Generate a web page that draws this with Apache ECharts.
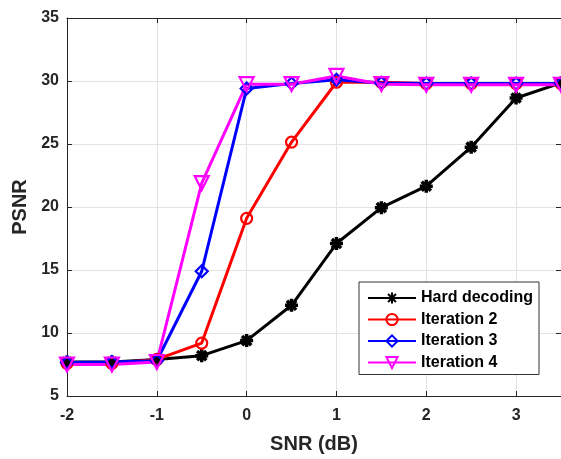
<!DOCTYPE html>
<html>
<head>
<meta charset="utf-8">
<script src="https://cdn.jsdelivr.net/npm/echarts@6/dist/echarts.min.js"></script>
<style>
  html, body { margin: 0; padding: 0; background: #fff; }
  #chart { width: 561px; height: 459px; }
</style>
</head>
<body>
<div id="chart"></div>
<script>
// SNR sweep (dB) and PSNR results for each decoder
const snr = [-2, -1.5, -1, -0.5, 0, 0.5, 1, 1.5, 2, 2.5, 3, 3.5];
const hardDecoding = [7.7, 7.7, 7.9, 8.2, 9.4, 12.2, 17.1, 19.95, 21.65, 24.75, 28.65, 29.85];
const iteration2 = [7.6, 7.6, 7.9, 9.2, 19.1, 25.15, 29.9, 29.9, 29.8, 29.8, 29.8, 29.8];
const iteration3 = [7.65, 7.7, 7.8, 14.9, 29.4, 29.8, 30.1, 29.85, 29.8, 29.8, 29.8, 29.8];
const iteration4 = [7.5, 7.5, 7.7, 21.9, 29.75, 29.75, 30.4, 29.75, 29.7, 29.7, 29.7, 29.7];

const xTicks = [-2, -1, 0, 1, 2, 3];
const yTicks = [5, 10, 15, 20, 25, 30, 35];

const asterisk = 'path://M0,-10L0,10M-10,0L10,0M-7.07,-7.07L7.07,7.07M-7.07,7.07L7.07,-7.07';
const triangleDown = 'path://M-10,-9L10,-9L0,10Z';

function pairs(values) {
  return snr.map((x, i) => [x, values[i]]);
}

function makeSeries(name, values, color, symbol, size) {
  const filled = symbol === asterisk;
  return {
    name: name,
    type: 'line',
    data: pairs(values),
    symbol: symbol,
    symbolSize: size,
    showAllSymbol: true,
    lineStyle: { color: color, width: 3 },
    itemStyle: {
      color: filled ? color : 'rgba(255,255,255,0)',
      borderColor: color,
      borderWidth: filled ? 3.5 : 2.2
    },
    emphasis: { disabled: true },
    animation: false
  };
}

const axisColor = '#262626';
const fontFamily = 'Liberation Sans, Arial, sans-serif';
const labelFont = { color: '#262626', fontWeight: 'bold', fontSize: 16, fontFamily: fontFamily };
const nameFont = { color: '#262626', fontWeight: 'bold', fontSize: 20, fontFamily: fontFamily };

const chart = echarts.init(document.getElementById('chart'), null, { renderer: 'canvas' });
chart.setOption({
  backgroundColor: '#ffffff',
  animation: false,
  grid: { left: 67, top: 18, right: 0, bottom: 59, containLabel: false },
  xAxis: [{
    type: 'value', min: -2, max: 3.5, interval: 1,
    name: 'SNR (dB)', nameLocation: 'middle', nameGap: 38,
    nameTextStyle: nameFont,
    axisLine: { show: true, onZero: false, lineStyle: { color: axisColor, width: 1 } },
    axisTick: { show: true, inside: true, length: 5, lineStyle: { color: axisColor } },
    axisLabel: Object.assign({ margin: 12, showMaxLabel: false, formatter: v => xTicks.includes(v) ? String(v) : '' }, labelFont),
    splitLine: { show: true, lineStyle: { color: '#e3e3e3', width: 1 } }
  }, {
    type: 'value', min: -2, max: 3.5, interval: 1, position: 'top',
    axisLine: { show: true, onZero: false, lineStyle: { color: axisColor, width: 1 } },
    axisTick: { show: true, inside: true, length: 5, lineStyle: { color: axisColor } },
    axisLabel: { show: false },
    splitLine: { show: false }
  }],
  yAxis: [{
    type: 'value', min: 5, max: 35, interval: 5,
    name: 'PSNR', nameLocation: 'middle', nameGap: 35, nameRotate: 90,
    nameTextStyle: nameFont,
    axisLine: { show: true, onZero: false, lineStyle: { color: axisColor, width: 1 } },
    axisTick: { show: true, inside: true, length: 5, lineStyle: { color: axisColor } },
    axisLabel: Object.assign({ margin: 8, formatter: v => yTicks.includes(v) ? String(v) : '' }, labelFont),
    splitLine: { show: true, lineStyle: { color: '#e3e3e3', width: 1 } }
  }, {
    type: 'value', min: 5, max: 35, interval: 5, position: 'right',
    axisLine: { show: true, onZero: false, lineStyle: { color: axisColor, width: 1 } },
    axisTick: { show: true, inside: true, length: 5, lineStyle: { color: axisColor } },
    axisLabel: { show: false },
    splitLine: { show: false }
  }],
  legend: {
    orient: 'vertical',
    left: 359, top: 282,
    padding: [8, 6, 4, 8],
    itemGap: 5.5,
    itemWidth: 48, itemHeight: 14,
    backgroundColor: '#ffffff',
    borderColor: '#333333', borderWidth: 1, borderRadius: 0,
    textStyle: { color: '#000', fontWeight: 'bold', fontSize: 16, lineHeight: 16, fontFamily: fontFamily },
    selectedMode: false,
    data: ['Hard decoding', 'Iteration 2', 'Iteration 3', 'Iteration 4']
  },
  series: [
    makeSeries('Hard decoding', hardDecoding, '#000000', asterisk, 13),
    makeSeries('Iteration 2', iteration2, '#ff0000', 'circle', 11),
    makeSeries('Iteration 3', iteration3, '#0000ff', 'diamond', 12),
    makeSeries('Iteration 4', iteration4, '#ff00ff', triangleDown, 14)
  ]
});
</script>
</body>
</html>
